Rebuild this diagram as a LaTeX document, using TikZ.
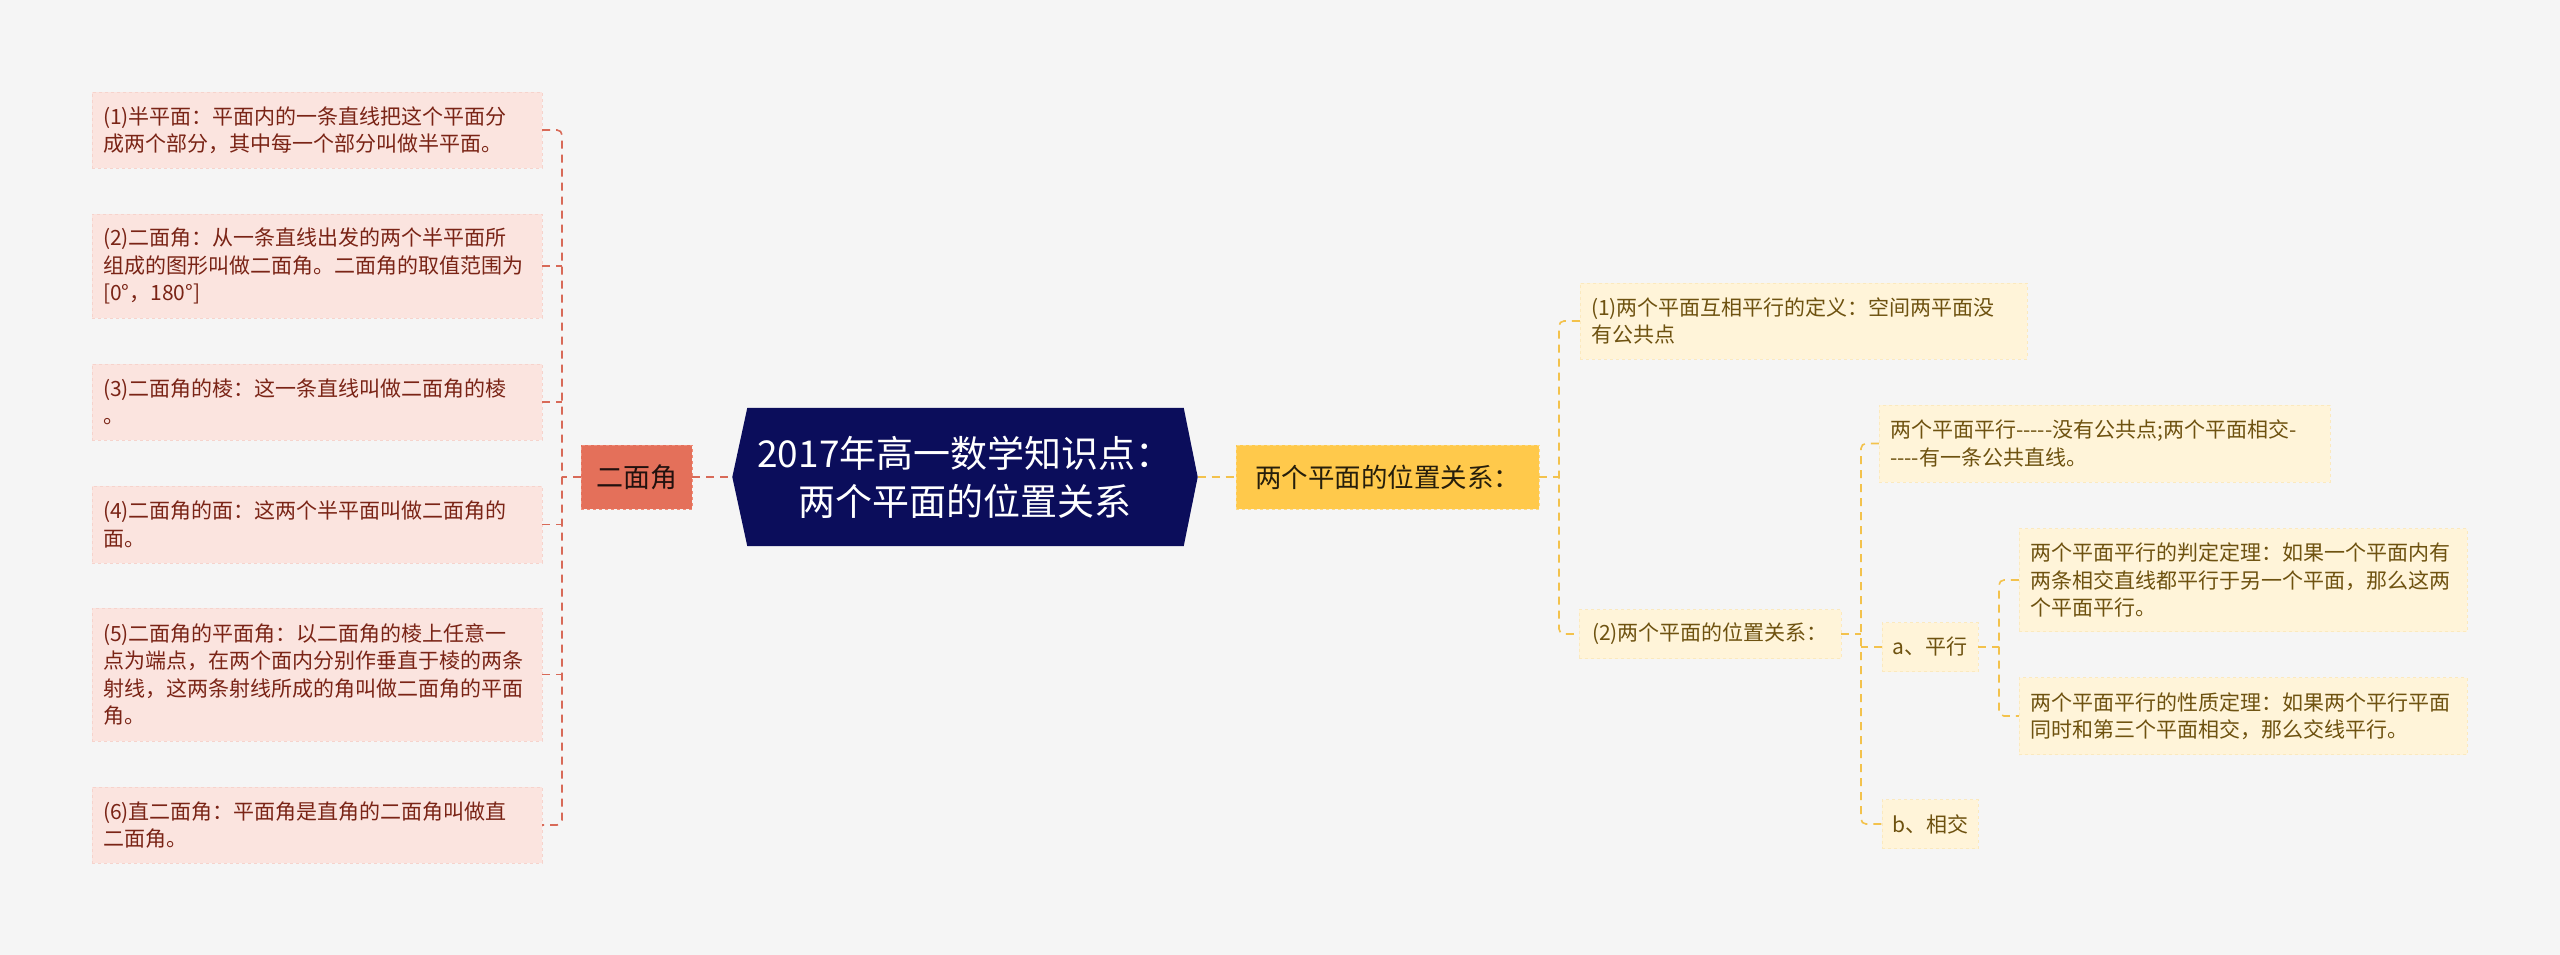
\documentclass[tikz,border=0pt]{standalone}
\usepackage{fontspec}
\setmainfont{Noto Sans CJK SC}
\usetikzlibrary{calc,backgrounds}
\definecolor{bgcol}{HTML}{F5F5F5}
\definecolor{pinkfill}{HTML}{FBE4DF}
\definecolor{pinkedge}{HTML}{F6D3CC}
\definecolor{pinktext}{HTML}{7A2416}
\definecolor{redline}{HTML}{D86A58}
\definecolor{coral}{HTML}{E4705A}
\definecolor{coraledge}{HTML}{F08E7A}
\definecolor{navy}{HTML}{0B0D5B}
\definecolor{gold}{HTML}{FFC94B}
\definecolor{goldedge}{HTML}{FBDA86}
\definecolor{cream}{HTML}{FFF4D9}
\definecolor{creamedge}{HTML}{FBE9BE}
\definecolor{browntext}{HTML}{6E5210}
\definecolor{goldline}{HTML}{F3C24C}

\begin{document}
\begin{tikzpicture}[x=1pt,y=-1pt,
  lbox/.style={fill=pinkfill,draw=pinkedge,dashed,text=pinktext,text width=428pt,
    align=left,inner xsep=11pt,font=\fontsize{21}{27.5}\selectfont},
  rbox/.style={fill=cream,draw=creamedge,dashed,text=browntext,align=left,
    inner xsep=11pt,font=\fontsize{21}{27.5}\selectfont},
  rline/.style={draw=redline,line width=1.6pt,dash pattern=on 8pt off 6pt},
  yline/.style={draw=goldline,line width=1.6pt,dash pattern=on 8pt off 6pt}]
  \useasboundingbox (0,0) rectangle (2560,955);

  \node[minimum width=465pt,minimum height=138pt,text=white,align=center,
    font=\fontsize{37}{48}\selectfont] (root) at (965,477)
    {2017年高一数学知识点：\\两个平面的位置关系};
  \begin{pgfonlayer}{background}
    \fill[bgcol] (0,0) rectangle (2560,955);
    \fill[navy] ($(root.north west)+(15,0)$) -- ($(root.north east)+(-14,0)$)
      -- (root.east) -- ($(root.south east)+(-14,0)$)
      -- ($(root.south west)+(15,0)$) -- (root.west) -- cycle;
  \end{pgfonlayer}

  \node[fill=coral,draw=coraledge,dashed,minimum width=111pt,minimum height=64pt,
    text=black!85!coral,font=\fontsize{27}{30}\selectfont] (erj) at (636.5,477) {二面角};
  \node[fill=gold,draw=goldedge,dashed,minimum width=303pt,minimum height=64pt,
    text=black!85!gold,font=\fontsize{26.5}{30}\selectfont] (pos) at (1387.5,477) {两个平面的位置关系：};

  \node[lbox,minimum height=76pt] (l1) at (317,130)
    {(1)半平面：平面内的一条直线把这个平面分\\成两个部分，其中每一个部分叫做半平面。};
  \node[lbox,minimum height=104pt] (l2) at (317,266)
    {(2)二面角：从一条直线出发的两个半平面所\\组成的图形叫做二面角。二面角的取值范围为\\{}[0°，180°]};
  \node[lbox,minimum height=76pt] (l3) at (317,402)
    {(3)二面角的棱：这一条直线叫做二面角的棱\\。};
  \node[lbox,minimum height=77pt] (l4) at (317,524.5)
    {(4)二面角的面：这两个半平面叫做二面角的\\面。};
  \node[lbox,minimum height=133pt] (l5) at (317,674.5)
    {(5)二面角的平面角：以二面角的棱上任意一\\点为端点，在两个面内分别作垂直于棱的两条\\射线，这两条射线所成的角叫做二面角的平面\\角。};
  \node[lbox,minimum height=76pt] (l6) at (317,825)
    {(6)直二面角：平面角是直角的二面角叫做直\\二面角。};

  \node[rbox,text width=425pt,minimum height=76pt] (r1) at (1803.5,321)
    {(1)两个平面互相平行的定义：空间两平面没\\有公共点};
  \node[rbox,minimum width=262pt,minimum height=49pt,align=center] (r2) at (1710,634)
    {(2)两个平面的位置关系：};
  \node[rbox,text width=429pt,minimum height=77pt] (rp) at (2104.5,443.5)
    {两个平面平行-{}-{}-{}-{}-没有公共点;两个平面相交-\\-{}-{}-{}-有一条公共直线。};
  \node[rbox,minimum width=96pt,minimum height=49pt,inner xsep=6pt] (pa) at (1930,647) {a、平行};
  \node[rbox,minimum width=96pt,minimum height=49pt,inner xsep=6pt] (pb) at (1930,824) {b、相交};
  \node[rbox,text width=426pt,minimum height=103pt] (pa1) at (2243,580)
    {两个平面平行的判定定理：如果一个平面内有\\两条相交直线都平行于另一个平面，那么这两\\个平面平行。};
  \node[rbox,text width=426pt,minimum height=77pt] (pa2) at (2243,716)
    {两个平面平行的性质定理：如果两个平行平面\\同时和第三个平面相交，那么交线平行。};

  \coordinate (lsp) at (562,477);
  \coordinate (rsp) at (1559,477);
  \coordinate (msp) at (1861,634);
  \coordinate (nsp) at (1999,647);

  \draw[rline] (erj.east) -- (root.west);
  \draw[rline] (erj.west) -- (lsp);
  \draw[rline,rounded corners=5pt] (l1.east) -| (lsp) |- (l6.east);
  \foreach \n in {l2,l3,l4,l5}
    \draw[rline] (\n.east) -- (\n.east -| lsp);

  \draw[yline] (root.east) -- (pos.west);
  \draw[yline] (pos.east) -- (rsp);
  \draw[yline,rounded corners=5pt] (r1.west) -| (rsp) |- (r2.west);
  \draw[yline] (r2.east) -- (msp);
  \draw[yline,rounded corners=5pt] (rp.west) -| (msp) |- (pb.west);
  \draw[yline] (pa.west) -- (pa.west -| msp);
  \draw[yline] (pa.east) -- (nsp);
  \draw[yline,rounded corners=5pt] (pa1.west) -| (nsp) |- (pa2.west);
\end{tikzpicture}
\end{document}
